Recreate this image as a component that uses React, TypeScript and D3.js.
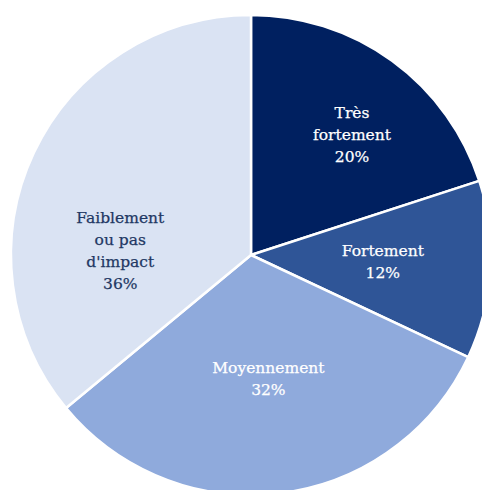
import React from "react";
import * as d3 from "d3";

const categories = ["Très fortement", "Fortement", "Moyennement", "Faiblement ou pas d'impact"];
const values = [20, 12, 32, 36];
const labelLines = [["Très", "fortement", "20%"], ["Fortement", "12%"], ["Moyennement", "32%"], ["Faiblement", "ou pas", "d'impact", "36%"]];
const colors = ["#002060", "#2F5597", "#8FAADC", "#DAE3F3"];
const textColors = ["#ffffff", "#ffffff", "#ffffff", "#1F3864"];
// label placement: [angle in degrees from top, distance as fraction of radius]
const labelPlacement = [[40, 0.655], [93, 0.55], [172, 0.52], [272, 0.545]];

const W = 482, H = 490;
const cx = 251, cy = 255, R = 240;

export default function App() {
  const pie = d3.pie<number>().sort(null).value((d) => d)(values);
  const arc = d3.arc<d3.PieArcDatum<number>>().innerRadius(0).outerRadius(R);
  const lh = 22;
  return (
    <svg width={W} height={H} style={{ position: "absolute", left: 0, top: 0 }}>
      <g transform={`translate(${cx},${cy})`}>
        {pie.map((p, i) => (
          <path key={categories[i]} d={arc(p) || ""} fill={colors[i]} stroke="#ffffff" strokeWidth={2.5} strokeLinejoin="round" />
        ))}
        {pie.map((p, i) => {
          const [deg, frac] = labelPlacement[i];
          const a = (deg * Math.PI) / 180;
          const x = Math.sin(a) * R * frac;
          const y = -Math.cos(a) * R * frac;
          const lines = labelLines[i];
          const y0 = y - ((lines.length - 1) * lh) / 2;
          return (
            <text key={"t" + i} textAnchor="middle" fontFamily="'DejaVu Serif', serif" fontSize={15.5} fill={textColors[i]} stroke={textColors[i]} strokeWidth={0.25}>
              {lines.map((l, j) => (
                <tspan key={j} x={x} y={y0 + j * lh} dy="0.35em">{l}</tspan>
              ))}
            </text>
          );
        })}
      </g>
    </svg>
  );
}
